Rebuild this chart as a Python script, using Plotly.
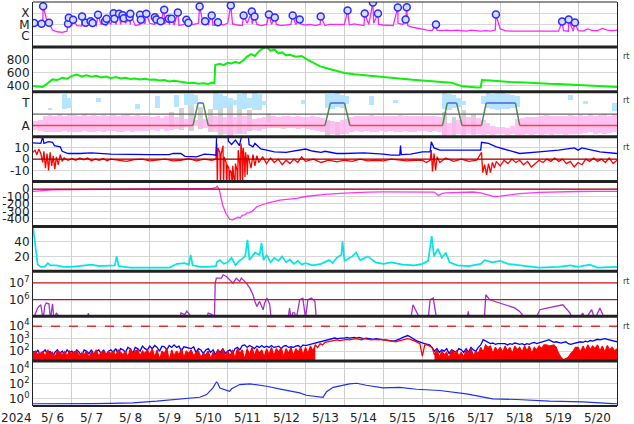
import plotly.graph_objects as go

# ---------------- data (time = days since 2024-05-06 00UT) ----------------
DAY_LABELS = ["5/ 6", "5/ 7", "5/ 8", "5/ 9", "5/10", "5/11", "5/12", "5/13",
              "5/14", "5/15", "5/16", "5/17", "5/18", "5/19", "5/20"]
YEAR_LABEL = "2024"
STEP = 0.125    # 3-hour sampling
FSTEP = 0.0625  # 1.5-hour sampling

# Panel 1: GOES X-ray background (log10 W/m2), 3-hourly, plus flare peaks
XR_BASE = [
    -5.2, -5.1, -5.0, -4.9, -5.5, -5.65, -5.7, -5.6,
    -5.1, -5.1, -5.15, -5.1, -5.2, -5.1, -5.0, -5.15,
    -5.0, -5.0, -5.0, -4.9, -5.0, -5.1, -5.0, -4.95,
    -4.9, -5.0, -5.0, -4.95, -5.0, -5.05, -5.1, -5.0,
    -4.95, -5.0, -4.9, -5.0, -5.0, -5.1, -5.0, -5.05,
    -4.9, -4.95, -5.05, -5.1, -4.9, -4.95, -5.0, -5.1,
    -5.0, -5.0, -5.0, -5.1, -5.05, -5.0, -5.0, -4.95,
    -5.05, -5.0, -5.1, -5.0, -5.1, -5.0, -5.0, -5.05,
    -5.0, -5.05, -4.95, -5.0, -5.1, -5.0, -4.9, -5.0,
    -5.05, -5.1, -5.1, -4.9, -5.0, -5.1, -5.25, -5.35,
    -5.45, -5.5, -5.55, -5.5, -5.55, -5.5, -5.55, -5.5,
    -5.55, -5.6, -5.5, -5.55, -5.6, -5.55, -5.6, -5.5,
    -5.4, -5.55, -5.6, -5.6, -5.55, -5.6, -5.6, -5.55,
    -5.6, -5.6, -5.55, -5.6, -5.6, -5.55, -5.6, -5.6,
    -5.55, -5.6, -5.4, -5.55, -5.55, -5.35, -5.5, -5.55,
    -5.5]
FLARE_T = [0.03, 0.22, 0.26, 0.41, 0.90, 0.92, 1.03, 1.26, 1.35, 1.48, 1.53, 1.67,
           1.85, 1.89, 2.07, 2.09, 2.21, 2.30, 2.33, 2.48, 2.50, 2.75, 2.77, 2.91,
           3.13, 3.17, 3.28, 3.37, 3.49, 3.56, 3.72, 3.94, 3.99, 4.28, 4.42, 4.59,
           4.75, 5.08, 5.41, 5.62, 5.69, 6.06, 6.21, 6.67, 6.85, 7.39, 8.08, 8.52,
           8.73, 8.86, 9.37, 9.57, 9.60, 10.35, 11.89, 13.59, 13.76, 13.92]
FLARE_V = [-4.88, -4.94, -3.37, -4.85, -4.94, -4.40, -4.58, -4.29, -4.85, -4.71, -4.88, -4.14,
           -4.71, -4.49, -4.00, -4.49, -4.05, -4.17, -4.44, -4.35, -4.05, -4.14, -4.58, -4.05,
           -4.35, -4.56, -4.71, -3.69, -4.49, -4.49, -3.93, -4.58, -4.85, -3.40, -4.71, -4.20,
           -4.80, -3.31, -4.20, -3.84, -4.29, -4.11, -4.38, -4.20, -4.56, -4.29, -3.76, -4.02,
           -3.04, -4.02, -3.49, -4.56, -3.46, -5.00, -4.11, -4.73, -4.56, -4.82]

# Panel 2: solar wind speed (km/s)
SW_T = [0.0, 0.125, 0.25, 0.375, 0.5, 0.625, 0.75, 0.875, 1.0, 1.125, 1.25, 1.375, 1.5,
        1.625, 1.75, 1.875, 2.0, 2.125, 2.25, 2.375, 2.5, 2.625, 2.75, 2.875, 3.0, 3.125,
        3.25, 3.375, 3.5, 3.625, 3.75, 3.875, 4.0, 4.125, 4.25, 4.375, 4.5, 4.6, 4.66,
        4.68, 4.8, 4.9, 5.0, 5.1, 5.2, 5.3, 5.4, 5.5, 5.6, 5.7, 5.8, 5.9, 6.0, 6.1, 6.2,
        6.3, 6.4, 6.5, 6.6, 6.75, 6.9, 7.0, 7.125, 7.25, 7.375, 7.5, 7.625, 7.75, 7.875,
        8.0, 8.25, 8.5, 8.75, 9.0, 9.25, 9.5, 9.75, 10.0, 10.25, 10.5, 10.75, 11.0,
        11.25, 11.4, 11.5, 11.53, 11.75, 12.0, 12.25, 12.5, 12.75, 13.0, 13.25, 13.5,
        13.75, 14.0, 14.25, 14.5, 14.75, 15.0]
SW_V = [400, 395, 385, 440, 500, 490, 525, 510, 555, 575, 545, 565, 540,
        555, 530, 545, 520, 535, 515, 525, 505, 515, 500, 510, 495, 500,
        485, 490, 470, 480, 465, 460, 445, 450, 435, 440, 430, 450, 440,
        720, 740, 720, 755, 745, 770, 750, 790, 850, 890, 860, 930, 975, 1000, 940, 960,
        900, 915, 870, 880, 850, 860, 820, 780, 740, 700, 680, 660, 640, 620,
        600, 580, 565, 545, 530, 520, 505, 495, 485, 475, 465, 450, 400,
        380, 375, 380, 490, 485, 470, 462, 455, 445, 440, 432, 428,
        418, 412, 402, 398, 392, 385]

# Panel 3: IMF sector (A = 1, T = 3); predicted sector line
SECT_T = [0, 4.11, 4.24, 4.37, 4.50, 7.50, 7.64, 8.00, 8.14, 10.52, 10.64, 10.88,
          11.02, 11.52, 11.64, 12.39, 12.50, 15]
SECT_V = [1, 1, 3, 3, 1, 1, 3, 3, 1, 1, 3, 3, 1, 1, 3, 3, 1, 1]
# observed away-sector (pink) cloud, 3-hour bins
PINK_HI = [1.4, 1.5, 1.9, 1.95, 1.9, 2.0, 1.9, 1.95,
           1.95, 1.9, 2.0, 1.9, 1.95, 1.85, 1.95, 1.9,
           1.95, 1.9, 1.95, 2.0, 1.9, 1.95, 1.9, 1.85,
           1.8, 1.9, 1.7, 1.85, 1.9, 1.8, 1.7, 1.6,
           1.7, 1.5, 1.4, 1.6, 1.8, 1.9, 1.7, 1.8,
           1.9, 1.8, 1.7, 1.9, 1.8, 1.6, 1.7, 1.8,
           1.8, 1.9, 1.8, 1.85, 1.9, 1.8, 1.85, 1.75,
           1.8, 1.85, 1.8, 1.7, 1.5, 1.4, 1.3, 1.5,
           1.6, 1.8, 1.9, 1.85, 1.9, 1.95, 1.9, 1.85,
           1.9, 1.85, 1.9, 1.95, 1.9, 1.85, 1.9, 1.85,
           1.9, 1.85, 1.9, 1.8, 1.3, 1.2, 1.4, 1.5,
           1.7, 1.8, 1.6, 1.7, 1.5, 1.2, 1.0, 0.9,
           0.9, 0.8, 1.0, 1.6, 1.7, 1.8, 1.75, 1.8,
           1.9, 1.95, 1.9, 1.85, 1.9, 1.9, 1.95, 1.9,
           1.95, 1.9, 2.0, 1.9, 1.95, 2.0, 1.9, 2.0]
PINK_LO = [0.6, 0.5, 0.45, 0.4, 0.45, 0.4, 0.5, 0.45,
           0.45, 0.4, 0.5, 0.45, 0.4, 0.5, 0.45, 0.5,
           0.5, 0.45, 0.4, 0.5, 0.45, 0.5, 0.55, 0.5,
           0.6, 0.5, 0.7, 0.55, 0.6, 0.7, 0.8, 0.9,
           0.9, 1.0, 0.9, 0.8, 0.6, 0.4, 0.5, 0.3,
           0.2, 0.3, 0.4, 0.3, 0.5, 0.6, 0.5, 0.7,
           0.8, 0.75, 0.8, 0.7, 0.75, 0.8, 0.7, 0.75,
           0.7, 0.6, 0.5, 0.4, 0.3, 0.3, 0.2, 0.3,
           0.3, 0.4, 0.5, 0.45, 0.5, 0.4, 0.45, 0.5,
           0.45, 0.5, 0.4, 0.45, 0.5, 0.45, 0.4, 0.5,
           0.5, 0.45, 0.5, 0.4, 0.2, 0.2, 0.3, 0.3,
           0.2, 0.3, 0.2, 0.3, 0.2, 0.3, 0.2, 0.3,
           0.3, 0.2, 0.3, 0.2, 0.2, 0.3, 0.2, 0.25,
           0.2, 0.25, 0.2, 0.3, 0.25, 0.2, 0.3, 0.25,
           0.3, 0.35, 0.4, 0.3, 0.35, 0.3, 0.35, 0.4]
# observed toward-sector (light blue) clusters: bin start, top, bottom
BLUE_T = [0.375, 0.75, 0.875, 1.625, 2.625, 3.125, 3.625, 3.875, 4.0, 4.125, 4.625,
          4.75, 4.875, 5.0, 5.125, 5.25, 5.375, 5.5, 5.625, 5.75, 5.875, 6.875, 7.5,
          7.625, 7.75, 7.875, 8.0, 8.625, 9.25, 10.5, 10.625, 10.75, 10.875, 11.0,
          11.5, 11.625, 11.75, 11.875, 12.0, 12.125, 12.25, 12.375, 13.75, 14.125, 14.875]
BLUE_HI = [2.6, 3.8, 3.5, 3.5, 2.9, 3.6, 3.7, 3.8, 3.8, 3.7, 3.9,
           3.8, 3.6, 3.5, 3.3, 3.8, 3.9, 3.5, 3.9, 3.8, 3.2, 3.3, 3.85,
           3.8, 3.9, 3.7, 3.6, 3.6, 3.3, 3.9, 3.8, 3.7, 3.5, 3.2,
           3.6, 3.9, 3.85, 3.9, 3.9, 3.8, 3.7, 3.6, 3.7, 3.2, 3.0]
BLUE_LO = [2.4, 2.5, 2.6, 3.1, 2.5, 2.6, 2.7, 2.8, 2.7, 2.9, 2.4,
           2.5, 2.6, 2.7, 2.8, 2.4, 2.5, 2.6, 2.4, 2.4, 2.8, 2.9, 2.6,
           2.5, 2.7, 2.6, 2.9, 2.8, 3.0, 2.5, 2.4, 2.6, 2.7, 2.8,
           2.9, 2.6, 2.5, 2.4, 2.5, 2.5, 2.6, 2.7, 3.3, 2.9, 2.3]
# undetermined (gray) clusters
GRAY_T = [3.5, 3.75, 4.0, 4.25, 4.5, 4.75, 5.0, 5.25, 5.5, 6.0, 7.5, 7.75, 10.5, 10.75, 11.0, 11.25]
GRAY_HI = [2.2, 2.6, 2.8, 2.7, 2.5, 2.9, 3.0, 2.6, 2.4, 2.1, 1.4, 1.3, 2.2, 1.8, 2.4, 2.0]
GRAY_LO = [0.9, 0.6, 0.5, 0.7, 0.4, 0.2, 0.1, 0.3, 0.5, 1.2, 0.1, 0.2, 0.1, 0.1, 0.3, 0.3]

# Panel 4: IMF Bt (blue) and Bz (red), nT
BT_T = [0.0, 0.2, 0.25, 0.28, 0.4, 0.5, 0.55, 0.7, 0.75, 0.9, 1.2, 1.5, 2.0, 2.5, 3.0,
        3.5, 3.6, 3.8, 3.9, 4.2, 4.4, 4.6, 4.7, 4.72, 5.0, 5.02, 5.1, 5.2, 5.3, 5.39,
        5.52, 5.55, 5.65, 5.7, 5.85, 6.0, 6.2, 6.5, 6.8, 7.0, 7.2, 7.4, 7.5, 7.8, 8.0,
        8.5, 9.0, 9.2, 9.42, 9.44, 9.46, 9.7, 10.0, 10.2, 10.23, 10.3, 10.45, 11.0,
        11.5, 11.52, 11.7, 11.9, 12.2, 12.5, 13.0, 13.5, 13.9, 14.0, 14.1, 14.56, 15.0]
BT_V = [14.5, 14, 20, 14, 15.5, 15, 12, 11, 7, 5, 5, 5.5, 4.5, 4, 4,
        4, 5, 5, 2.5, 2, 4.5, 4, 3.5, 25, 25, 16, 13, 17, 12, 25,
        25, 13, 11, 14, 9, 8, 6.5, 6, 8, 9, 7, 6, 7, 5, 5,
        5.5, 4.5, 3.5, 3.5, 12, 4, 4.4, 6.5, 6.5, 15.4, 10, 8, 8,
        8, 15, 14, 11, 8, 5, 6.5, 8, 10, 8, 10, 6.5, 5]
BZ_T = [0.0, 0.05, 0.1, 0.15, 0.2, 0.25, 0.28, 0.32, 0.36, 0.4, 0.44, 0.48, 0.52, 0.56,
        0.6, 0.65, 0.7, 0.75, 0.8, 0.9, 1.0, 1.1, 1.2, 1.3, 1.4, 1.5, 1.6, 1.7, 1.8,
        1.9, 2.0, 2.2, 2.4, 2.6, 2.8, 3.0, 3.2, 3.4, 3.6, 3.8, 4.0, 4.2, 4.4, 4.6,
        4.70, 4.72, 4.735, 4.75, 4.80, 4.815, 4.83, 4.88, 4.895, 4.91, 4.96, 4.975,
        4.99, 5.03, 5.045, 5.06, 5.10, 5.115, 5.13, 5.17, 5.185, 5.20, 5.24, 5.255,
        5.27, 5.31, 5.325, 5.34, 5.37, 5.385, 5.40, 5.43, 5.445, 5.46, 5.49, 5.505,
        5.52, 5.56, 5.6, 5.65, 5.7, 5.75, 5.8, 5.9, 6.0, 6.1, 6.2, 6.3,
        6.4, 6.5, 6.6, 6.7, 6.8, 6.9, 7.0, 7.2, 7.4, 7.6, 7.8, 8.0, 8.2, 8.4, 8.6,
        8.8, 9.0, 9.2, 9.4, 9.6, 9.8, 10.0, 10.1, 10.2, 10.23, 10.26, 10.3, 10.34,
        10.38, 10.45, 10.6, 10.8, 11.0, 11.2, 11.4, 11.52, 11.55, 11.6, 11.65, 11.7,
        11.75, 11.8, 11.85, 11.9, 12.0, 12.1, 12.2, 12.3, 12.4, 12.5, 12.6, 12.7,
        12.8, 12.9, 13.0, 13.1, 13.2, 13.3, 13.4, 13.5, 13.6, 13.7, 13.8, 13.9,
        14.0, 14.1, 14.2, 14.3, 14.4, 14.5, 14.6, 14.7, 14.8, 14.9, 15.0]
BZ_V = [6, 8, 4, 9, 5, -3, 7, -8, 5, -10, 6, -6, 3, -9,
        2, -5, 4, -2, 1, -1, 0.5, -1, 1, -0.5, 1, -1.5, 0, -1, 0.5,
        -1.5, 0, -1, -2, -0.5, 0, -1.5, -0.5, 0, -1.5, -1, 0.5, -1.5, 0, -1,
        0, 14, -25, 10, 6, -25, 4, 12, -25, 2, -3, -25,
        -5, -8, -25, -10, -12, -25, -6, -15, -25, -4, -10, -25,
        8, -5, -25, 14, 5, -20, 10, -2, -16, 6, -3, -14,
        4, -2, -8, 4, -6, 3, -3, 2, -4, 1, -3, 0,
        -5, -1, -4, 0, -3, 2, -2, 0, -3, -1, -2.5, -1, -2, 0, -1.5,
        -1, -1.5, 0, -1, -1.5, -1, -1, -3, -1, 8, -11, 5, -10,
        2, -3, 1, -2, 0, -2, -1, 6, -12, -5, -14, -4,
        -12, -3, -8, -2, -6, -1, -4, 0, -3, -1, -5, -2,
        -7, -4, -1, -3, 0, -2, 1, -2, 0, -4, -2, -7,
        -3, -5, 0, -2, 1, -2, 0, -3, 1, -4, -1]

# Panel 5: Dst (nT)
DST_T = [0.0, 0.2, 0.5, 1.0, 1.5, 2.0, 2.5, 3.0, 3.5, 4.0, 4.3, 4.6, 4.7, 4.73, 4.78,
         4.87, 4.95, 5.05, 5.13, 5.2, 5.26, 5.32, 5.38, 5.44, 5.5, 5.56, 5.62, 5.75,
         5.9, 6.0, 6.34, 6.77, 7.0, 7.2, 7.5, 8.0, 8.3, 8.6, 9.0, 9.5, 10.0, 10.3,
         10.42, 10.5, 10.6, 11.0, 11.3, 11.5, 11.7, 11.85, 12.0, 12.2, 12.5, 13.0,
         13.5, 14.0, 14.5, 15.0]
DST_V = [-30, -20, -12, -8, -4, -2, 0, 2, 4, 5, 5, 8, 20, 40, 0,
         -213, -320, -404, -412, -395, -377, -385, -350, -347, -320, -315, -303, -236,
         -210, -190, -147, -124, -100, -89, -70, -55, -45, -40, -38, -36, -36, -40,
         -88, -60, -50, -45, -40, -50, -80, -100, -95, -80, -60, -45,
         -36, -33, -32, -30]

# Panel 6: solar wind density (/cc)
DEN_T = [0.0, 0.03, 0.08, 0.12, 0.2, 0.3, 0.38, 0.45, 0.6, 0.8, 1.0, 1.3, 1.5, 1.7,
         2.1, 2.15, 2.2, 2.5, 3.0, 3.5, 3.7, 3.9, 4.0, 4.05, 4.1, 4.3, 4.5, 4.7, 4.72,
         4.8, 4.9, 5.0, 5.1, 5.2, 5.3, 5.45, 5.51, 5.56, 5.7, 5.82, 5.87, 5.92, 6.0,
         6.1, 6.2, 6.3, 6.4, 6.5, 6.6, 6.7, 6.8, 6.9, 7.0, 7.2, 7.4, 7.6, 7.7, 7.8,
         7.92, 7.95, 8.0, 8.2, 8.3, 8.4, 8.6, 8.8, 9.0, 9.2, 9.5, 9.8, 10.0, 10.15,
         10.24, 10.3, 10.4, 10.5, 10.6, 10.7, 10.9, 11.2, 11.5, 11.6, 11.8, 12.0, 12.2,
         12.5, 12.8, 13.0, 13.5, 13.8, 14.0, 14.3, 14.5, 15.0]
DEN_V = [60, 45, 20, 9, 6, 6, 11, 8, 8, 6, 6, 8, 9, 7,
         8, 20, 7, 5, 5, 5, 10, 11, 9, 22, 8, 6, 6, 7, 12,
         15, 10, 12, 18, 8, 14, 20, 42, 15, 25, 22, 38, 15, 22,
         12, 18, 14, 20, 12, 16, 10, 14, 9, 11, 8, 10, 15, 11, 18,
         22, 40, 14, 20, 25, 15, 20, 12, 10, 12, 9, 8, 10, 14,
         47, 20, 30, 18, 25, 12, 8, 7, 10, 15, 12, 14, 10,
         8, 6, 5, 6, 8, 6, 9, 5, 6]

# Panel 7: electron index (log10); values below 5 lie off-scale
EF_T = [0.0, 0.08, 0.12, 0.2, 0.26, 0.3, 0.34, 0.41, 0.45, 0.5, 0.54, 0.6, 0.72, 1.4,
        1.42, 1.46, 3.77, 3.8, 3.9, 3.95, 4.02, 4.08, 4.45, 4.5, 4.6, 4.66, 4.68, 4.71,
        4.84, 4.88, 4.97, 5.05, 5.14, 5.22, 5.31, 5.35, 5.48, 5.57, 5.65, 5.7, 5.75,
        5.82, 5.91, 5.95, 6.01, 6.08, 6.12, 6.55, 6.59, 6.63, 6.67, 6.72, 6.76, 6.85,
        6.93, 7.0, 7.06, 7.15, 7.24, 7.28, 9.7, 9.76, 9.86, 9.95, 10.15, 10.2, 10.28,
        10.37, 11.15, 11.18, 11.21, 11.5, 11.6, 11.63, 11.73, 11.86, 11.99, 12.25,
        12.37, 12.5, 12.63, 12.94, 13.02, 13.2, 13.4, 13.61, 13.79, 13.86, 14.04,
        14.12, 14.18, 14.35, 14.43, 14.56, 14.69, 14.86, 14.95]
EF_V = [4.8, 5.3, 5.5, 5.69, 4.8, 5.6, 5.79, 5.75, 4.8, 5.75, 4.8, 5.2, 4.8, 4.8,
        5.19, 4.8, 4.8, 5.2, 5.1, 5.3, 5.1, 4.8, 4.8, 5.19, 5.1, 4.8, 6.99, 7.29,
        7.29, 7.49, 7.39, 7.19, 6.99, 7.29, 7.09, 7.29, 6.99, 6.69, 6.29, 5.89, 5.59,
        5.89, 5.39, 5.79, 6.09, 5.7, 4.8, 4.8, 5.49, 4.8, 5.2, 5.2, 4.8, 6.0,
        6.09, 4.9, 6.0, 6.09, 5.9, 4.8, 4.8, 5.69, 5.3, 4.8, 4.8, 5.99, 6.09,
        4.8, 4.8, 5.3, 4.8, 4.8, 5.1, 6.29, 5.99, 5.9, 5.79, 5.6,
        5.5, 5.29, 4.9, 5.0, 5.39, 5.49, 5.59, 5.69, 5.2, 4.8, 4.9,
        5.19, 4.8, 5.39, 4.8, 5.49, 4.8, 5.0, 4.8]

# Panel 8: two flux channels (log10), 1.5-hourly; red is a dense (filled) trace
P8_BLUE = [
    2.0, 1.8, 2.1, 1.6, 1.9, 2.1, 1.7, 2.0, 1.5, 1.9, 2.1, 1.8, 2.0, 1.7, 2.1, 1.9,
    2.0, 1.7, 2.1, 1.9, 1.6, 2.1, 2.0, 1.8, 2.1, 1.7, 2.0, 2.1, 1.8, 2.1, 1.7, 2.0,
    2.1, 1.9, 2.2, 1.8, 2.2, 2.1, 1.9, 2.3, 2.2, 1.8, 2.3, 2.2, 2.0, 2.4, 2.2, 2.1,
    2.4, 2.2, 2.45, 2.3, 2.0, 2.4, 2.35, 2.1, 2.45, 2.3, 2.5, 2.3, 2.4, 2.0, 2.35, 2.3,
    2.3, 2.2, 2.35, 1.9, 2.2, 2.1, 1.8, 2.1, 2.2, 1.9, 2.1, 1.7, 2.1, 1.9, 2.2, 1.8,
    2.0, 2.1, 1.8, 2.2, 2.3, 2.1, 2.45, 2.5, 2.3, 2.45, 2.35, 2.2, 2.4, 2.3, 2.45, 2.3,
    2.4, 2.3, 2.45, 2.3, 2.35, 2.4, 2.2, 2.4, 2.45, 2.3, 2.35, 2.3, 2.4, 2.45, 2.3, 2.5,
    2.45, 2.5, 2.55, 2.6, 2.7, 2.75, 2.8, 2.85, 2.9, 2.95, 3.0, 3.0, 3.05, 3.0, 3.05, 3.05,
    3.05, 3.1, 3.05, 3.1, 3.1, 3.05, 3.1, 3.05, 3.0, 3.05, 3.0, 3.0, 2.95, 3.0, 2.95, 2.95,
    2.9, 2.9, 2.85, 2.85, 2.8, 2.85, 2.9, 3.0, 3.1, 3.2, 3.25, 3.15, 3.0, 2.9, 2.8, 2.7,
    2.66, 2.6, 2.55, 2.5, 2.3, 2.0, 2.2, 1.9, 2.1, 2.0, 2.2, 1.8, 2.1, 2.0, 1.9, 2.2,
    2.1, 1.9, 2.2, 1.9, 2.3, 2.1, 2.0, 2.3, 2.5, 2.92, 2.8, 2.7, 2.6, 2.65, 2.55, 2.6,
    2.6, 2.55, 2.6, 2.5, 2.6, 2.55, 2.65, 2.6, 2.55, 2.6, 2.5, 2.6, 2.55, 2.65, 2.7, 2.6,
    2.65, 2.7, 2.75, 2.85, 2.92, 2.8, 2.7, 2.75, 2.7, 2.65, 2.7, 2.75, 2.6, 2.55, 2.6, 2.65,
    2.7, 2.75, 2.7, 2.8, 2.75, 2.85, 2.8, 2.9, 2.95, 2.9, 2.95, 3.0, 2.95, 2.9, 2.85, 2.8,
    2.75]
P8_RED = [
    1.9, 2.0, 1.7, 1.8, 1.95, 1.6, 2.1, 1.8, 1.9, 1.5, 2.0, 1.9, 1.7, 1.95, 1.6, 2.0,
    1.8, 1.95, 2.0, 1.6, 1.85, 1.7, 2.0, 1.5, 1.9, 1.75, 2.1, 1.6, 1.9, 2.0, 1.7, 1.95,
    1.8, 2.0, 1.6, 2.1, 1.9, 1.7, 2.0, 1.5, 2.2, 1.8, 2.0, 2.1, 1.6, 2.0, 1.8, 2.1,
    1.7, 2.2, 1.5, 2.1, 1.3, 2.0, 1.8, 2.2, 1.2, 2.1, 1.6, 2.0, 1.7, 2.2, 1.5, 2.0,
    1.8, 2.1, 1.6, 1.9, 2.0, 1.5, 1.8, 1.7, 2.0, 1.4, 1.9, 1.6, 2.1, 1.7, 2.2, 1.5,
    2.0, 1.6, 2.1, 1.4, 2.2, 1.8, 2.1, 1.3, 2.2, 1.7, 2.3, 1.6, 2.2, 1.8, 2.1, 1.5,
    2.2, 1.7, 2.3, 1.6, 2.2, 1.9, 2.3, 1.5, 2.2, 1.8, 2.3, 1.6, 2.2, 1.9, 2.3, 1.7,
    2.3, 1.8, 2.4, 2.0, 2.5, 2.3, 2.6, 2.5, 2.7, 2.75, 2.8, 2.8, 2.85, 2.9, 2.85, 2.9,
    2.9, 2.95, 2.9, 2.95, 2.95, 3.0, 2.95, 2.9, 3.0, 2.95, 2.95, 2.9, 2.95, 2.9, 2.9, 2.95,
    2.9, 2.85, 2.85, 2.8, 2.8, 2.75, 2.8, 2.85, 2.9, 2.95, 3.0, 2.95, 2.9, 2.8, 2.7, 2.6,
    1.6, 2.5, 2.5, 2.4, 2.3, 1.7, 2.1, 1.5, 2.0, 1.7, 1.9, 1.4, 2.1, 1.8, 2.0, 1.6,
    1.9, 1.5, 2.1, 1.7, 2.2, 1.6, 2.0, 1.8, 2.3, 1.9, 2.5, 2.3, 2.4, 1.8, 2.3, 2.0,
    2.3, 1.9, 2.4, 2.0, 2.3, 1.8, 2.4, 2.1, 2.3, 1.9, 2.4, 2.0, 2.4, 1.8, 2.3, 2.1,
    2.4, 2.2, 2.5, 2.5, 2.4, 2.45, 2.5, 2.3, 1.8, 1.5, 1.3, 1.4, 1.5, 1.8, 2.0, 2.3,
    2.3, 1.9, 2.4, 2.0, 2.5, 2.1, 2.4, 2.2, 2.5, 2.0, 2.4, 1.9, 2.45, 2.1, 2.3, 2.0,
    2.2]
# time windows (days) where the red channel's noise fills down to the axis floor
RED_FILL_START = [0.0, 10.3]
RED_FILL_END = [7.3, 15.0]
P8_FLOOR = 1.0

# Panel 9: proton flux (log10)
PF_T = [0.0, 0.5, 1.0, 1.5, 2.0, 2.56, 3.18, 3.59, 4.28, 4.46, 4.62, 4.71, 4.74, 4.8,
        4.9, 5.05, 5.1, 5.2, 5.31, 5.57, 6.0, 6.42, 6.85, 7.02, 7.45, 7.54, 7.71, 8.13,
        8.31, 8.56, 8.99, 9.42, 9.85, 10.45, 11.13, 11.81, 12.42, 13.27, 14.12, 14.89, 15.0]
PF_V = [-0.7, -0.72, -0.7, -0.68, -0.66, -0.58, -0.36, -0.13, 0.17, 0.53, 1.43, 2.2, 2.1, 1.4,
        1.2, 0.97, 1.3, 1.6, 1.87, 1.96, 1.64, 1.2, 0.76, 0.44, 0.17, 0.9, 1.5, 1.96,
        2.04, 1.77, 1.43, 1.5, 1.24, 1.07, 0.62, -0.04, -0.13, -0.36, -0.44, -0.67, -0.7]

# ---------------- figure ----------------
FONT = "DejaVu Sans"
N = 9
fig = go.Figure()


def ax(n):
    return "" if n == 1 else str(n)


def add(n, **kw):
    fig.add_trace(go.Scatter(xaxis="x" + ax(n), yaxis="y" + ax(n), showlegend=False,
                             hoverinfo="skip", **kw))


# Panel 1
xr_pts = sorted([(i * STEP, v) for i, v in enumerate(XR_BASE)] + list(zip(FLARE_T, FLARE_V)))
add(1, x=[p[0] for p in xr_pts], y=[10 ** p[1] for p in xr_pts], mode="lines",
    line=dict(color="#ff22ff", width=1.3))
add(1, x=FLARE_T, y=[10 ** v for v in FLARE_V], mode="markers",
    marker=dict(symbol="circle", size=7, color="#d8dcff", line=dict(color="#2a2aff", width=1.5)))

# Panel 2
add(2, x=SW_T, y=SW_V, mode="lines", line=dict(color="#11ee11", width=2.0))


# Panel 3 clouds
def bars(n, t0s, his, los, color, opacity=1.0):
    xs, bs, hs = [], [], []
    for t0, hi, lo in zip(t0s, his, los):
        if hi is None:
            continue
        xs.append(t0 + STEP / 2)
        bs.append(lo)
        hs.append(hi - lo)
    fig.add_trace(go.Bar(x=xs, y=hs, base=bs, width=STEP, marker=dict(color=color, line=dict(width=0)),
                         opacity=opacity, xaxis="x" + ax(n), yaxis="y" + ax(n),
                         showlegend=False, hoverinfo="skip"))


bars(3, GRAY_T, GRAY_HI, GRAY_LO, "#d4d4d4")
bars(3, [i * STEP for i in range(len(PINK_HI))], PINK_HI, PINK_LO, "#ffb4f0", 0.8)
bars(3, BLUE_T, BLUE_HI, BLUE_LO, "#b4e4ff", 0.95)
for i in range(len(SECT_T) - 1):
    a, b = SECT_V[i], SECT_V[i + 1]
    col = "#ee4444" if (a == 1 and b == 1) else ("#4466ee" if (a == 3 and b == 3) else "#4f8a4f")
    add(3, x=[SECT_T[i], SECT_T[i + 1]], y=[a, b], mode="lines", line=dict(color=col, width=1.5))

# Panel 4
add(4, x=BZ_T, y=BZ_V, mode="lines", line=dict(color="#ff0000", width=1.3))
add(4, x=BT_T, y=BT_V, mode="lines", line=dict(color="#0000ff", width=1.3))

# Panel 5
add(5, x=DST_T, y=DST_V, mode="lines", line=dict(color="#ff33ff", width=1.3))

# Panel 6
add(6, x=DEN_T, y=DEN_V, mode="lines", line=dict(color="#00e5e5", width=1.7))

# Panel 7
add(7, x=EF_T, y=[10 ** v for v in EF_V], mode="lines", line=dict(color="#a22fd0", width=1.3))

# Panel 8
grid_t = [i * FSTEP for i in range(len(P8_BLUE))]
add(8, x=grid_t, y=[10 ** v for v in P8_BLUE], mode="lines", line=dict(color="#0000ff", width=1.3))
for s, e in zip(RED_FILL_START, RED_FILL_END):
    idx = [i for i, t in enumerate(grid_t) if s - 1e-9 <= t <= e + 1e-9]
    xs = [grid_t[i] for i in idx]
    ys = [10 ** P8_RED[i] for i in idx]
    add(8, x=xs + xs[::-1], y=ys + [10 ** P8_FLOOR] * len(xs), mode="none", fill="toself",
        fillcolor="#ff0000")
add(8, x=grid_t, y=[10 ** v for v in P8_RED], mode="lines", line=dict(color="#ff0000", width=1.3))

# Panel 9
add(9, x=PF_T, y=[10 ** v for v in PF_V], mode="lines", line=dict(color="#2030ee", width=1.2))

# ---------------- axes ----------------
AX_CFG = {
    1: dict(type="log", range=[-7, -3], tickvals=[1e-4, 1e-5, 1e-6], ticktext=["X", "M", "C"], showgrid=True),
    2: dict(range=[310, 1000], tickvals=[400, 600, 800], ticktext=["400", "600", "800"], showgrid=True),
    3: dict(range=[0, 4], tickvals=[1, 3], ticktext=["A", "T"], showgrid=False),
    4: dict(range=[-20, 20], tickvals=[-10, 0, 10], ticktext=["-10", "0", "10"], showgrid=True),
    5: dict(range=[-500, 100], tickvals=[0, -100, -200, -300, -400],
            ticktext=["0", "-100", "-200", "-300", "-400"], showgrid=True),
    6: dict(range=[0, 60], tickvals=[20, 40], ticktext=["20", "40"], showgrid=True),
    7: dict(type="log", range=[5, 7.7], tickvals=[1e6, 1e7],
            ticktext=["10<sup>6</sup>", "10<sup>7</sup>"], showgrid=False),
    8: dict(type="log", range=[1.2, 4.8], tickvals=[1e2, 1e3, 1e4],
            ticktext=["10<sup>2</sup>", "10<sup>3</sup>", "10<sup>4</sup>"], showgrid=True),
    9: dict(type="log", range=[-1, 5], tickvals=[1, 1e2, 1e4],
            ticktext=["10<sup>0</sup>", "10<sup>2</sup>", "10<sup>4</sup>"], showgrid=True),
}

layout = dict(
    width=634, height=424, autosize=False,
    margin=dict(l=33, r=17, t=2, b=18, pad=0, autoexpand=False),
    paper_bgcolor="white", plot_bgcolor="white",
    showlegend=False, barmode="overlay", bargap=0,
    font=dict(family=FONT, size=12, color="#222"),
)
for n in range(1, N + 1):
    top = 1 - (n - 1) / N
    bot = 1 - n / N
    xa = dict(domain=[0, 1], anchor="y" + ax(n), range=[0, 15], tickmode="array",
              tickvals=list(range(16)), showticklabels=False, ticks="",
              showgrid=True, gridcolor="#cfcfcf", gridwidth=1, zeroline=False,
              showline=False, automargin=False)
    if n > 1:
        xa["matches"] = "x"
    ya = dict(domain=[bot, top], anchor="x" + ax(n), tickmode="array", zeroline=False,
              gridcolor="#d6d6d6", gridwidth=1, ticks="", showline=True, linecolor="#222",
              linewidth=1, mirror=True, tickfont=dict(family=FONT, size=12, color="#222"),
              fixedrange=True, automargin=False)
    ya.update(AX_CFG[n])
    layout["xaxis" + ax(n)] = xa
    layout["yaxis" + ax(n)] = ya

shapes = []


def hline(n, y, color, width=1.2, dash="solid"):
    shapes.append(dict(type="line", xref="x" + ax(n) + " domain", x0=0, x1=1,
                       yref="y" + ax(n), y0=y, y1=y, line=dict(color=color, width=width, dash=dash),
                       layer="above"))


hline(3, 2, "#666666", 1.2)
hline(4, 0, "#a00000", 1.3)
hline(5, 0, "#a00000", 1.3)
hline(7, 1e6, "#cc1111", 1.3)
hline(7, 1e7, "#cc1111", 1.3)
hline(8, 1e4, "#dd3333", 1.5, "dash")
for k in range(1, N):
    yy = k / N
    shapes.append(dict(type="line", xref="paper", yref="paper", x0=0, x1=1, y0=yy, y1=yy,
                       line=dict(color="#222", width=3), layer="above"))
shapes.append(dict(type="line", xref="paper", yref="paper", x0=0, x1=1, y0=0, y1=0,
                   line=dict(color="#222", width=2), layer="above"))
shapes.append(dict(type="line", xref="paper", yref="paper", x0=0, x1=1, y0=1, y1=1,
                   line=dict(color="#222", width=1), layer="above"))
layout["shapes"] = shapes

ann = []
for d, lab in enumerate(DAY_LABELS):
    ann.append(dict(text=lab, xref="x9", x=d + 0.5, yref="paper", y=-0.008, yanchor="top",
                    xanchor="center", showarrow=False, font=dict(family=FONT, size=12, color="#222")))
ann.append(dict(text=YEAR_LABEL, xref="paper", x=-0.028, yref="paper", y=-0.008, yanchor="top",
                xanchor="center", showarrow=False, font=dict(family=FONT, size=12, color="#222")))
for yy in [0.864, 0.755, 0.641, 0.307, 0.196]:
    ann.append(dict(text="rt", xref="paper", x=1.006, yref="paper", y=yy, xanchor="left",
                    yanchor="middle", showarrow=False, font=dict(family=FONT, size=8, color="#333")))
layout["annotations"] = ann

fig.update_layout(**layout)
fig.write_html("out.html", config={"displayModeBar": False},
               post_script="document.body.style.margin='0';document.body.style.padding='0';")
